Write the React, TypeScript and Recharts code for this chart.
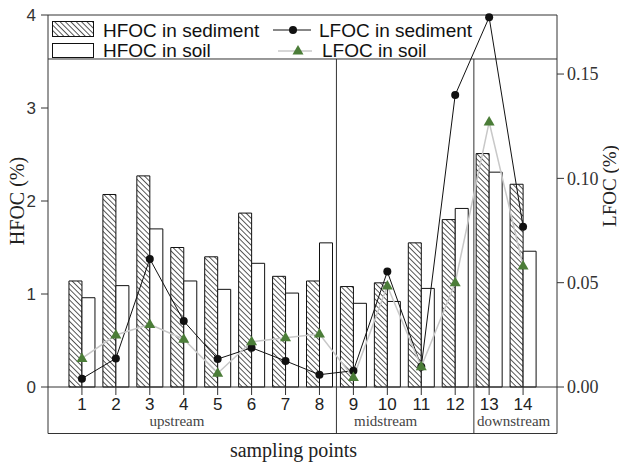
import React from 'react';
import {
  ComposedChart,
  Bar,
  Line,
  XAxis,
  YAxis,
  ReferenceLine
} from 'recharts';

const samples = [1, 2, 3, 4, 5, 6, 7, 8, 9, 10, 11, 12, 13, 14];
const hfocSediment = [1.14, 2.07, 2.27, 1.5, 1.4, 1.87, 1.19, 1.14, 1.08, 1.12, 1.55, 1.8, 2.51, 2.18];
const hfocSoil = [0.96, 1.09, 1.7, 1.14, 1.05, 1.33, 1.01, 1.55, 0.9, 0.92, 1.06, 1.92, 2.31, 1.46];
const lfocSediment = [0.004, 0.0137, 0.0614, 0.0316, 0.0134, 0.0188, 0.0125, 0.0059, 0.0078, 0.0553, 0.0097, 0.14, 0.1772, 0.0768];
const lfocSoil = [0.0137, 0.0249, 0.03, 0.0229, 0.0066, 0.0217, 0.0236, 0.0254, 0.0045, 0.0484, 0.0097, 0.05, 0.127, 0.058];

const regionNames = ['upstream', 'midstream', 'downstream'];
const regionTicks = [3.8, 9.95, 13.72];
const regionBreaks = [8.5, 12.55];

const leftTicks = [0, 1, 2, 3, 4];
const rightTicks = [0, 0.05, 0.1, 0.15];

const data = samples.map((s, i) => ({
  sample: s,
  hSed: hfocSediment[i],
  hSoil: hfocSoil[i],
  lSed: lfocSediment[i],
  lSoil: lfocSoil[i]
}));

const SANS = '"Liberation Sans", Arial, sans-serif';
const SERIF = '"Liberation Serif", "Times New Roman", serif';
const GREEN = '#4b7d38';
const LEGEND_Y = 3.527; // legend box bottom, in left-axis units
const BOX_Y = -0.5; // bottom of the region box

const Triangle = (props: any) => {
  const { cx, cy, index } = props;
  if (cx == null || cy == null) return <g key={`t-${index}`} />;
  return (
    <path
      key={`t-${index}`}
      d={`M${cx},${cy - 6} L${cx + 5.5},${cy + 3.5} L${cx - 5.5},${cy + 3.5} Z`}
      fill={GREEN}
    />
  );
};

const SampleTick = (props: any) => {
  const { x, y, payload } = props;
  return (
    <text x={x} y={y} dy={15} textAnchor="middle" fontSize={17} fontFamily={SANS} fill="#222">
      {payload.value}
    </text>
  );
};

const RegionTick = (props: any) => {
  const { x, y, payload } = props;
  const idx = regionTicks.indexOf(payload.value);
  return (
    <text x={x} y={y} dy={8.5} textAnchor="middle" fontSize={15} fontFamily={SERIF} fill="#444">
      {regionNames[idx]}
    </text>
  );
};

function ChartLegend() {
  return (
    <svg width={619} height={70} style={{ position: 'absolute', left: 0, top: 0, pointerEvents: 'none' }}>
      <rect x={52.5} y={21.5} width={41} height={15} fill="url(#hatch)" stroke="#111" />
      <rect x={52.5} y={43.5} width={41} height={14} fill="#fff" stroke="#111" />
      <text x={103} y={36.5} fontSize={19} fontFamily={SANS} fill="#111">HFOC in sediment</text>
      <text x={103} y={57} fontSize={19} fontFamily={SANS} fill="#111">HFOC in soil</text>
      <line x1={273} x2={311} y1={30} y2={30} stroke="#111" strokeWidth={1} />
      <circle cx={293} cy={30} r={4} fill="#111" />
      <line x1={278} x2={312} y1={51} y2={51} stroke="#c8c8c8" strokeWidth={1.5} />
      <path d="M298,45 L303.5,54.5 L292.5,54.5 Z" fill={GREEN} />
      <text x={319} y={36.5} fontSize={19} fontFamily={SANS} fill="#111">LFOC in sediment</text>
      <text x={322} y={57} fontSize={19} fontFamily={SANS} fill="#111">LFOC in soil</text>
    </svg>
  );
}

export default function App() {
  return (
    <div style={{ position: 'absolute', left: 0, top: 0, width: 619, height: 464, background: '#fff' }}>
      <svg width={0} height={0} style={{ position: 'absolute' }}>
        <defs>
          <pattern id="hatch" patternUnits="userSpaceOnUse" width={3.8} height={3.8} patternTransform="rotate(-45)">
            <rect width={3.8} height={3.8} fill="#fff" />
            <line x1={0} y1={0} x2={0} y2={3.8} stroke="#111" strokeWidth={1.4} />
          </pattern>
        </defs>
      </svg>
      <ComposedChart
        width={619}
        height={464}
        data={data}
        margin={{ top: 15, right: 0, bottom: 0, left: 0 }}
        barSize={13}
        barGap={0}
      >
        <XAxis
          dataKey="sample"
          type="number"
          domain={[0, 15]}
          ticks={samples}
          interval={0}
          height={30}
          tickSize={8}
          tickMargin={0}
          tick={<SampleTick />}
          stroke="#333"
        />
        <XAxis
          xAxisId="region"
          dataKey="sample"
          type="number"
          domain={[0, 15]}
          ticks={regionTicks}
          interval={0}
          height={47}
          axisLine={false}
          tickLine={false}
          tickSize={0}
          tickMargin={0}
          tick={<RegionTick />}
          label={{
            value: 'sampling points',
            position: 'insideBottom',
            offset: 7,
            dx: -9,
            fontSize: 20,
            fontFamily: SERIF,
            fill: '#222'
          }}
        />
        <YAxis
          yAxisId="left"
          domain={[0, 4]}
          ticks={leftTicks}
          width={48}
          tickSize={7}
          tickMargin={5}
          stroke="#333"
          tick={{ fontSize: 17, fontFamily: SANS, fill: '#333' }}
          label={{
            value: 'HFOC (%)',
            angle: -90,
            position: 'insideLeft',
            offset: 17,
            style: { textAnchor: 'middle' },
            fontSize: 20,
            fontFamily: SERIF,
            fill: '#222'
          }}
        />
        <YAxis
          yAxisId="right"
          orientation="right"
          domain={[0, 0.1783]}
          ticks={rightTicks}
          width={62}
          tickSize={7}
          tickMargin={3}
          stroke="#333"
          tickFormatter={(v) => Number(v).toFixed(2)}
          tick={{ fontSize: 18, fontFamily: SERIF, fill: '#333' }}
          label={{
            value: 'LFOC (%)',
            angle: -90,
            position: 'insideRight',
            offset: 10,
            dy: -15,
            style: { textAnchor: 'middle' },
            fontSize: 19,
            fontFamily: SERIF,
            fill: '#222'
          }}
        />

        <ReferenceLine yAxisId="left" y={4} stroke="#333" />
        <ReferenceLine yAxisId="left" y={LEGEND_Y} stroke="#333" />
        {regionBreaks.map((b) => (
          <ReferenceLine
            key={b}
            yAxisId="left"
            ifOverflow="visible"
            stroke="#333"
            segment={[{ x: b, y: BOX_Y }, { x: b, y: LEGEND_Y }]}
          />
        ))}
        <ReferenceLine yAxisId="left" ifOverflow="visible" stroke="#333" segment={[{ x: 0, y: BOX_Y }, { x: 15, y: BOX_Y }]} />
        <ReferenceLine yAxisId="left" ifOverflow="visible" stroke="#333" segment={[{ x: 0, y: 0 }, { x: 0, y: BOX_Y }]} />
        <ReferenceLine yAxisId="left" ifOverflow="visible" stroke="#333" segment={[{ x: 15, y: 0 }, { x: 15, y: BOX_Y }]} />

        <Bar yAxisId="left" dataKey="hSed" fill="url(#hatch)" stroke="#111" strokeWidth={1} isAnimationActive={false} />
        <Bar yAxisId="left" dataKey="hSoil" fill="#fff" stroke="#111" strokeWidth={1} isAnimationActive={false} />
        <Line
          yAxisId="right"
          dataKey="lSed"
          type="linear"
          stroke="#111"
          strokeWidth={1}
          dot={{ r: 4, fill: '#111', stroke: '#111', strokeWidth: 0 }}
          activeDot={false}
          isAnimationActive={false}
        />
        <Line
          yAxisId="right"
          dataKey="lSoil"
          type="linear"
          stroke="#c8c8c8"
          strokeWidth={1.5}
          dot={<Triangle />}
          activeDot={false}
          isAnimationActive={false}
        />
      </ComposedChart>
      <ChartLegend />
    </div>
  );
}
